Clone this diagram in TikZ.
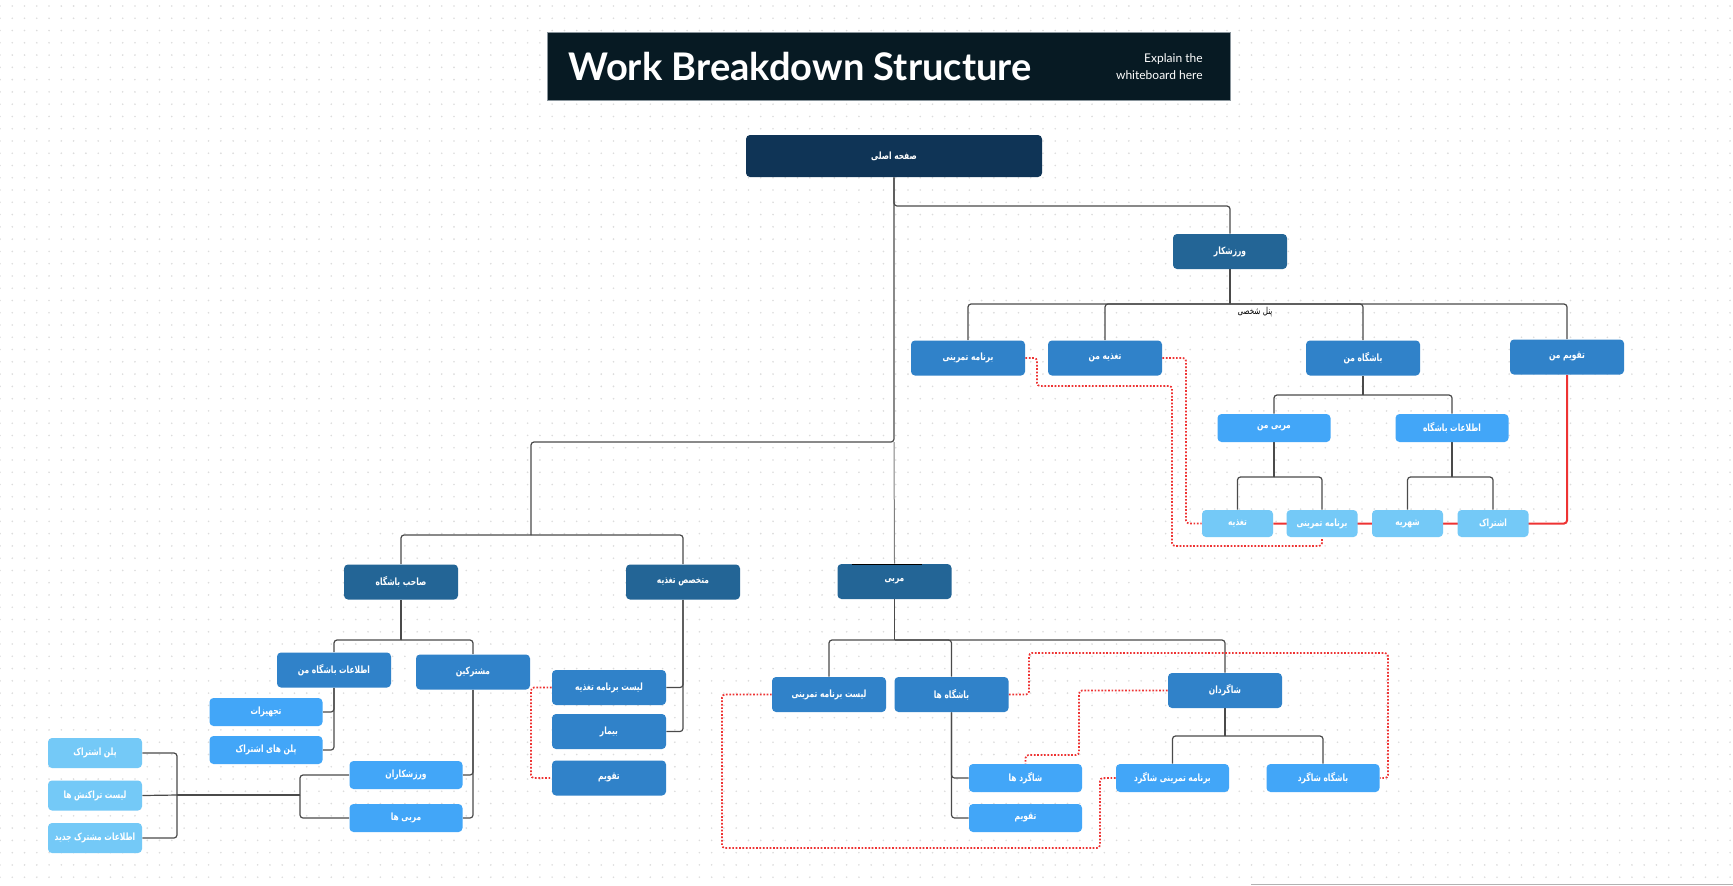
\documentclass[tikz,border=0pt]{standalone}
\usepackage{fontspec}
\usepackage{graphicx}
\TeXXeTstate=1
\newfontfamily\arfont[Script=Arabic, FakeStretch=0.75]{DejaVu Sans}
\newfontfamily\latofont{Lato}
\newcommand\rl[1]{\beginR#1\endR}
\definecolor{titlebg}{HTML}{071A23}
\definecolor{titlebd}{HTML}{8A959C}
\definecolor{cA}{HTML}{0F3456}
\definecolor{cB}{HTML}{236596}
\definecolor{cC}{HTML}{3082C9}
\definecolor{cD}{HTML}{42A6F8}
\definecolor{cE}{HTML}{74C9F7}
\definecolor{linec}{HTML}{4A4A4A}
\definecolor{redc}{HTML}{EE3333}
\definecolor{dotc}{HTML}{DCDCDC}
\pgfdeclarelayer{bg}
\pgfdeclarelayer{links}
\pgfsetlayers{bg,links,main}
\begin{document}
\begin{tikzpicture}[x=0.5pt,y=-0.5pt,
  box/.style={rounded corners=2pt, inner sep=0pt, text=white,
    font=\arfont\bfseries\fontsize{5pt}{5.5pt}\selectfont},
  Lone/.style={box, fill=cA, minimum width=148pt, minimum height=21pt},
  Ltwo/.style={box, fill=cB, minimum width=57pt, minimum height=17.5pt},
  Lthree/.style={box, fill=cC, minimum width=57pt, minimum height=17.5pt},
  Lfour/.style={box, fill=cD, minimum width=56.5pt, minimum height=14pt},
  Lfivesmall/.style={box, fill=cE, minimum width=35.5pt, minimum height=13.5pt},
  Lfiveleft/.style={box, fill=cE, minimum width=47pt, minimum height=15pt},
  link/.style={draw=linec, line width=0.6pt, rounded corners=1.5pt},
  redsolid/.style={draw=redc, line width=1pt, rounded corners=1.5pt},
  reddot/.style={draw=redc, line width=0.85pt, dash pattern=on 0.85pt off 0.85pt, rounded corners=1.5pt},
  dotrow/.style={draw=dotc, line width=0.9pt, line cap=round, dash pattern=on 0pt off 6.135pt}
]
\useasboundingbox (0,0) rectangle (1733,885);
\begin{pgfonlayer}{bg}
\fill[white] (0,0) rectangle (1733,885);
\foreach \j in {0,...,71}{\draw[dotrow] (0,6+\j*12.27) -- (1733,6+\j*12.27);}
\end{pgfonlayer}

% title
\node[draw=titlebd, line width=0.5pt, fill=titlebg, minimum width=341.5pt, minimum height=34pt, inner sep=0pt] (title) at (888.5,66) {};
\node[anchor=base west, inner sep=0pt, text=white] (ttext) at (568,80) {\resizebox{231.5pt}{!}{\latofont\bfseries Work Breakdown Structure}};
\node[anchor=east, align=right, inner sep=0pt, text=white, font=\latofont\fontsize{6pt}{8.5pt}\selectfont] (expl) at (1203,66.5) {Explain the\\whiteboard here};

% nodes
\node[Lone] (root) at (894,156) {\rl{صفحه اصلی}};
\node[Ltwo] (varz) at (1230,251.5) {\rl{ورزشکار}};
\node[Ltwo] (sahe) at (401,582) {\rl{صاحب باشگاه}};
\node[Ltwo] (motakh) at (683,582) {\rl{متخصص تغذیه}};
\node[Ltwo] (morabi) at (894.5,581.5) {\rl{مربی}};

\node[Lthree] (barn) at (968,358) {\rl{برنامه تمرینی}};
\node[Lthree] (taghm) at (1105,358) {\rl{تغذیه من}};
\node[Lthree] (bashm) at (1363,358) {\rl{باشگاه من}};
\node[Lthree] (taqm) at (1567,357) {\rl{تقویم من}};
\node[Lfour] (morm) at (1274,428) {\rl{مربی من}};
\node[Lfour] (ettb) at (1452,428) {\rl{اطلاعات باشگاه}};
\node[Lfivesmall] (tagh) at (1237.5,523.5) {\rl{تغذیه}};
\node[Lfivesmall] (barn2) at (1322,523.5) {\rl{برنامه تمرینی}};
\node[Lfivesmall] (shah) at (1407.5,523.5) {\rl{شهریه}};
\node[Lfivesmall] (eshtr) at (1493,523.5) {\rl{اشتراک}};
\node[font=\arfont\fontsize{4.8pt}{5pt}\selectfont, text=black, inner sep=0pt] (panel) at (1255,312) {\rl{پنل شخصی}};

\node[Lthree] (ettbm) at (334,670) {\rl{اطلاعات باشگاه من}};
\node[Lthree] (moshtr) at (473,672) {\rl{مشترکین}};
\node[Lfour] (tajh) at (266,712) {\rl{تجهیزات}};
\node[Lfour] (planha) at (266,750) {\rl{پلن های اشتراک}};
\node[Lfour] (varzan) at (406,775) {\rl{ورزشکاران}};
\node[Lfour] (morha) at (406,818) {\rl{مربی ها}};
\node[Lfiveleft] (plan) at (95,753) {\rl{پلن اشتراک}};
\node[Lfiveleft] (listx) at (95,795.5) {\rl{لیست تراکنش ها}};
\node[Lfiveleft] (ettjd) at (95,838) {\rl{اطلاعات مشترک جدید}};

\node[Lthree] (listt) at (609,687.5) {\rl{لیست برنامه تغذیه}};
\node[Lthree] (bimar) at (609,731.5) {\rl{بیمار}};
\node[Lthree] (taqv) at (609,778) {\rl{تقویم}};

\node[Lthree] (listb) at (829,694.5) {\rl{لیست برنامه تمرینی}};
\node[Lthree] (bashha) at (951.5,694.5) {\rl{باشگاه ها}};
\node[Lthree] (shagn) at (1225,690.5) {\rl{شاگردان}};
\node[Lfour] (shagh) at (1025.5,778) {\rl{شاگرد ها}};
\node[Lfour] (taqv2) at (1025.5,818) {\rl{تقویم}};
\node[Lfour] (barsh) at (1172.5,778) {\rl{برنامه تمرینی شاگرد}};
\node[Lfour] (bashsh) at (1323,778) {\rl{باشگاه شاگرد}};

\draw[black, line width=0.6pt] (851.5,564.6) -- (922,564.6);
\draw[gray!60, line width=0.5pt] (1251,884) -- (1733,884);

\begin{pgfonlayer}{links}
\coordinate (j1) at (531,535);
\coordinate (jt) at (894,442);
\draw[link] (root.south) -- (894,206) -| (varz.north);
\draw[link] (root.south) -- (jt) -| (j1);
\draw[link] (j1) -| (sahe.north);
\draw[link] (j1) -| (motakh.north);
\draw[link, draw=linec!70, line width=0.5pt] (jt) -- (morabi.north);

\coordinate (j2) at (1230,304);
\draw[link] (varz.south) -- (j2);
\draw[link] (j2) -| (barn.north);
\draw[link] (j2) -| (taghm.north);
\draw[link] (j2) -| (bashm.north);
\draw[link] (j2) -| (taqm.north);
\coordinate (j3) at (1363,395);
\draw[link] (bashm.south) -- (j3);
\draw[link] (j3) -| (morm.north);
\draw[link] (j3) -| (ettb.north);
\coordinate (j4) at (1274,477);
\draw[link] (morm.south) -- (j4);
\draw[link] (j4) -| (tagh.north);
\draw[link] (j4) -| (barn2.north);
\coordinate (j5) at (1452,477);
\draw[link] (ettb.south) -- (j5);
\draw[link] (j5) -| (shah.north);
\draw[link] (j5) -| (eshtr.north);

\coordinate (j6) at (401,640);
\draw[link] (sahe.south) -- (j6);
\draw[link] (j6) -| (ettbm.north);
\draw[link] (j6) -| (moshtr.north);
\draw[link] (ettbm.south) |- (tajh.east);
\draw[link] (ettbm.south) |- (planha.east);
\draw[link] (moshtr.south) |- (varzan.east);
\draw[link] (moshtr.south) |- (morha.east);
\coordinate (j7) at (300,795);
\coordinate (j8) at (177,795);
\draw[link] (varzan.west) -| (j7);
\draw[link] (morha.west) -| (j7);
\draw[link] (j7) -- (j8);
\draw[link] (j8) |- (plan.east);
\draw[link] (j8) -- (listx.east);
\draw[link] (j8) |- (ettjd.east);

\draw[link] (motakh.south) |- (listt.east);
\draw[link] (motakh.south) |- (bimar.east);

\coordinate (j9) at (894.5,640);
\draw[link] (morabi.south) -- (j9);
\draw[link] (j9) -| (listb.north);
\draw[link] (j9) -| (bashha.north);
\draw[link] (j9) -| (shagn.north);
\draw[link] (bashha.south) |- (shagh.west);
\draw[link] (bashha.south) |- (taqv2.west);
\coordinate (j10) at (1225,736);
\draw[link] (shagn.south) -- (j10);
\draw[link] (j10) -| (barsh.north);
\draw[link] (j10) -| (bashsh.north);

% red
\draw[redsolid] (taqm.south) -- (1567,523.5) -- (tagh.east);
\draw[reddot] (taghm.east) -- (1186,358) -- (1186,523.5) -- (tagh.west);
\draw[reddot] (barn.east) -- (1037,358) -- (1037,386) -- (1172,386) -- (1172,546) -- (1322,546) -- (barn2.south);
\draw[reddot] (listt.west) -- (531,687.5) -- (531,778) -- (taqv.west);
\draw[reddot] (bashha.east) -- (1029,694.5) -- (1029,653) -- (1388,653) -- (1388,778) -- (bashsh.east);
\draw[reddot] (shagn.west) -- (1079,690.5) -- (1079,755) -- (1025.5,755) -- (shagh.north);
\draw[reddot] (barsh.west) -- (1100,778) -- (1100,848) -- (722,848) -- (722,694.5) -- (listb.west);
\end{pgfonlayer}
\end{tikzpicture}
\end{document}
